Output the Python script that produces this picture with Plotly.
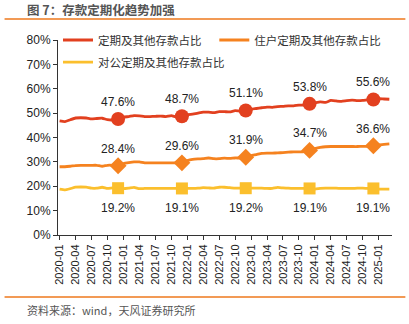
import plotly.graph_objects as go

months = [f"{y}-{m:02d}" for y in range(2020, 2026) for m in range(1, 13)][:63]

total = [46.8, 46.5, 47.3, 48.0, 48.1, 48.0, 47.6, 47.8, 47.9, 47.3, 47.2, 47.6,
         48.3, 48.6, 49.0, 48.9, 48.6, 48.6, 48.7, 48.8, 48.6, 49.0, 48.4, 48.7,
         49.3, 49.6, 50.0, 50.4, 50.4, 50.2, 50.6, 50.6, 50.5, 51.0, 50.8, 51.1,
         51.6, 51.9, 52.2, 52.5, 52.4, 52.7, 52.8, 53.0, 53.0, 53.3, 53.3, 53.8,
         54.2, 54.6, 54.4, 55.2, 55.0, 54.8, 55.1, 55.3, 55.1, 55.2, 55.5, 55.6,
         55.9, 55.8, 55.7]
household = [28.0, 28.0, 28.2, 28.5, 28.6, 28.6, 28.6, 28.6, 28.2, 28.6, 28.6, 28.4,
             29.3, 29.7, 30.0, 30.0, 29.6, 29.6, 29.6, 29.6, 29.6, 29.6, 29.6, 29.6,
             30.5, 31.0, 31.2, 31.3, 31.6, 31.3, 31.3, 31.5, 31.4, 31.6, 31.6, 31.9,
             32.6, 33.0, 33.5, 33.6, 33.6, 33.7, 33.8, 34.0, 34.1, 34.1, 34.2, 34.7,
             35.4, 35.9, 36.2, 36.3, 36.3, 36.3, 36.3, 36.3, 36.3, 36.4, 36.4, 36.6,
             37.0, 37.2, 37.4]
corporate = [18.8, 18.5, 19.0, 19.6, 19.7, 19.6, 19.2, 19.2, 19.6, 19.1, 19.3, 19.2,
             19.0, 19.2, 19.5, 19.0, 19.1, 19.1, 19.1, 19.1, 19.1, 19.1, 19.1, 19.1,
             19.1, 19.1, 19.2, 19.4, 19.3, 19.2, 19.6, 19.6, 19.4, 19.2, 19.2, 19.2,
             19.2, 19.2, 19.2, 19.1, 19.1, 19.5, 19.3, 19.2, 19.1, 19.1, 19.1, 19.1,
             18.8, 19.1, 19.2, 19.2, 19.2, 19.1, 19.1, 19.1, 19.2, 19.2, 19.1, 19.1,
             18.8, 18.8, 18.8]

series_names = ["定期及其他存款占比", "住户定期及其他存款占比", "对公定期及其他存款占比"]
colors = ["#E2401F", "#F5821F", "#FBBF2D"]
symbols = ["circle", "diamond", "square"]
marker_sizes = [14, 13, 12]
marked_months = ["2020-12", "2021-12", "2022-12", "2023-12", "2024-12"]
tick_labels = months[0:61:3]

x = list(range(len(months)))
idx = {m: i for i, m in enumerate(months)}

fig = go.Figure()
all_series = [total, household, corporate]
legend_ids = ["legend", "legend2", "legend3"]
for name, vals, c, lg in zip(series_names, all_series, colors, legend_ids):
    fig.add_trace(go.Scatter(x=x, y=vals, mode="lines", name=name, legend=lg,
                             line=dict(color=c, width=2.8, shape="spline", smoothing=0.4)))

for k, (vals, c, s, ms) in enumerate(zip(all_series, colors, symbols, marker_sizes)):
    mx = [idx[m] for m in marked_months]
    my = [vals[i] for i in mx]
    fig.add_trace(go.Scatter(x=mx, y=my, mode="markers", showlegend=False,
                             marker=dict(color=c, symbol=s, size=ms)))
    for xi, yi in zip(mx, my):
        fig.add_annotation(x=xi, y=yi, text=f"{yi:.1f}%", showarrow=False,
                           yshift=(-20 if k == 2 else 17),
                           font=dict(size=12, color="#222", family="Liberation Sans, Arial"))

leg_common = dict(orientation="h", xanchor="left", yanchor="middle",
                  font=dict(size=11.5, family="Noto Sans CJK SC", color="#333"),
                  bgcolor="rgba(0,0,0,0)", itemwidth=30)

fig.update_layout(
    width=409, height=324,
    margin=dict(l=58, r=17, t=40, b=89),
    paper_bgcolor="white", plot_bgcolor="white",
    font=dict(family="Liberation Sans, Arial, Noto Sans CJK SC", color="#222"),
    showlegend=True,
    legend=dict(x=0.0, y=1.0, **leg_common),
    legend2=dict(x=0.468, y=1.0, **leg_common),
    legend3=dict(x=0.0, y=0.887, **leg_common),
    xaxis=dict(range=[-0.3, 62.5], tickmode="array",
               tickvals=[idx[t] for t in tick_labels], ticktext=tick_labels,
               tickangle=-90, ticks="outside", ticklen=4, tickcolor="#333",
               showline=True, linecolor="#333", linewidth=1, showgrid=False,
               zeroline=False, tickfont=dict(size=11, color="#222")),
    yaxis=dict(range=[0, 80], dtick=10, ticksuffix="%", ticks="outside", ticklen=4,
               tickcolor="#333", showline=True, linecolor="#333", linewidth=1,
               showgrid=False, zeroline=False, tickfont=dict(size=12, color="#222")),
)

# title, separators, source
fig.add_annotation(xref="paper", yref="paper", x=-0.10, y=1.155, xanchor="left", yanchor="middle",
                   text="<b>图 7：存款定期化趋势加强</b>", showarrow=False,
                   font=dict(size=12.5, color="#555", family="Noto Sans CJK SC"))
fig.add_shape(type="line", xref="paper", yref="paper", x0=-0.16, x1=1.04, y0=1.108, y1=1.108,
              line=dict(color="#F29A55", width=2))
fig.add_shape(type="line", xref="paper", yref="paper", x0=-0.16, x1=1.04, y0=-0.318, y1=-0.318,
              line=dict(color="#F29A55", width=2))
fig.add_annotation(xref="paper", yref="paper", x=-0.10, y=-0.385, xanchor="left", yanchor="middle",
                   text="资料来源：wind，天风证券研究所", showarrow=False,
                   font=dict(size=11, color="#555", family="Noto Sans CJK SC"))

fig.write_html("out.html")
